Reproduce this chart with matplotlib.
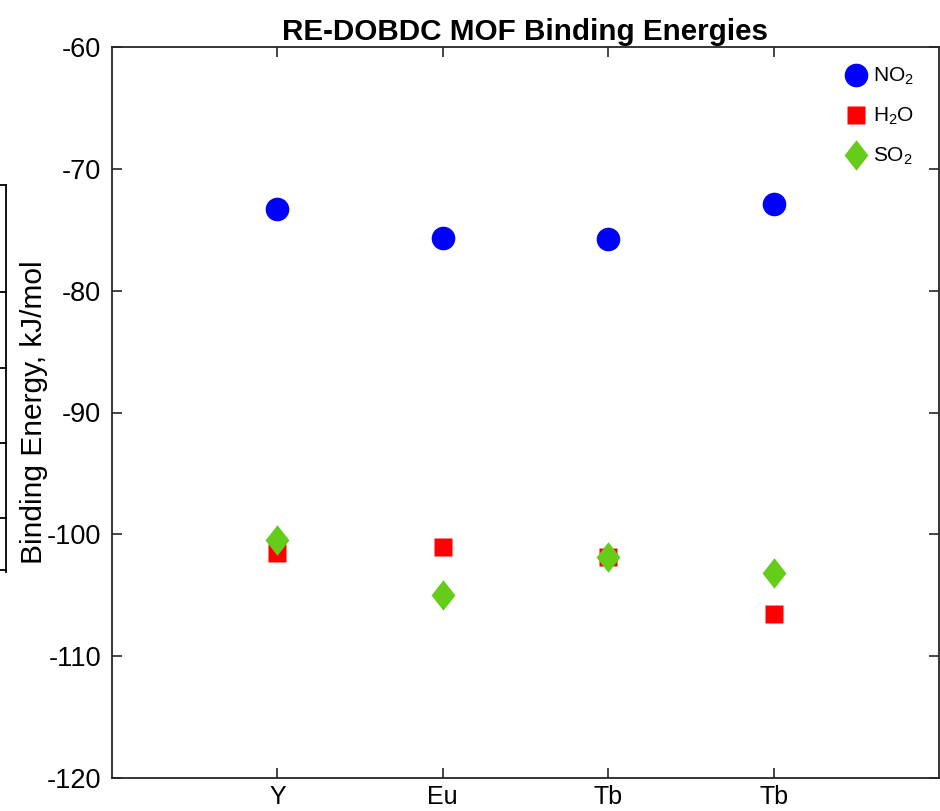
import numpy as np
import matplotlib
matplotlib.use("Agg")
import matplotlib.pyplot as plt
from matplotlib.lines import Line2D
from matplotlib.path import Path

plt.rcParams["font.family"] = ["Liberation Sans", "DejaVu Sans"]
plt.rcParams["mathtext.default"] = "regular"
plt.rcParams["axes.unicode_minus"] = False

# data
metals = ["Y", "Eu", "Tb", "Tb"]
no2 = [-73.3, -75.7, -75.8, -72.9]
h2o = [-101.5, -101.0, -101.9, -106.5]
so2 = [-100.5, -105.0, -101.9, -103.2]

W, H = 940, 811
fig = plt.figure(figsize=(W / 100, H / 100), dpi=100)
ax = fig.add_axes([112 / W, (H - 778) / H, 827 / W, 731 / H])

x = np.arange(1, len(metals) + 1)
diamond = Path([(0, 1), (0.78, 0), (0, -1), (-0.78, 0), (0, 1)],
               [Path.MOVETO, Path.LINETO, Path.LINETO, Path.LINETO, Path.CLOSEPOLY])

ax.plot(x, no2, "o", ls="none", color="#0000ff", ms=17, mec="none", label=r"NO$_2$")
ax.plot(x, h2o, "s", ls="none", color="#ff0000", ms=13.3, mec="none", label=r"H$_2$O")
ax.plot(x, so2, marker=diamond, ls="none", color="#66cc1a", ms=22, mec="none", label=r"SO$_2$")

ax.set_xlim(0, 5)
ax.set_ylim(-120, -60)
ax.set_xticks(x)
ax.set_xticklabels(metals)
ax.set_yticks(np.arange(-120, -59, 10))
ax.tick_params(direction="in", length=7, width=1.2, colors="#262626",
               top=True, right=True)
ax.tick_params(axis="y", labelsize=19.5, pad=8)
ax.tick_params(axis="x", labelsize=18, pad=5)
for s in ax.spines.values():
    s.set_linewidth(1.3)
    s.set_color("#262626")
for lab in ax.get_xticklabels() + ax.get_yticklabels():
    lab.set_color("black")

ax.set_ylabel("Binding Energy, kJ/mol", fontsize=21.5, labelpad=-1)
ax.set_title("RE-DOBDC MOF Binding Energies", fontsize=21.3, fontweight="bold", pad=5)

leg = ax.legend(loc="upper right", bbox_to_anchor=(0.985, 0.991), frameon=False,
                fontsize=15, handletextpad=0.3, labelspacing=0.9, handlelength=1.0,
                borderaxespad=0.2)

# partial frame of a neighbouring panel at the left edge
def fl(x0, y0, x1, y1):
    fig.add_artist(Line2D([x0 / W, x1 / W], [1 - y0 / H, 1 - y1 / H],
                          color="black", lw=1.3, transform=fig.transFigure))

fl(6, 185, 6, 572)
for yy in [185, 292, 368, 443, 518, 570]:
    fl(0, yy, 6, yy)

fig.savefig("out.png", dpi=100)
